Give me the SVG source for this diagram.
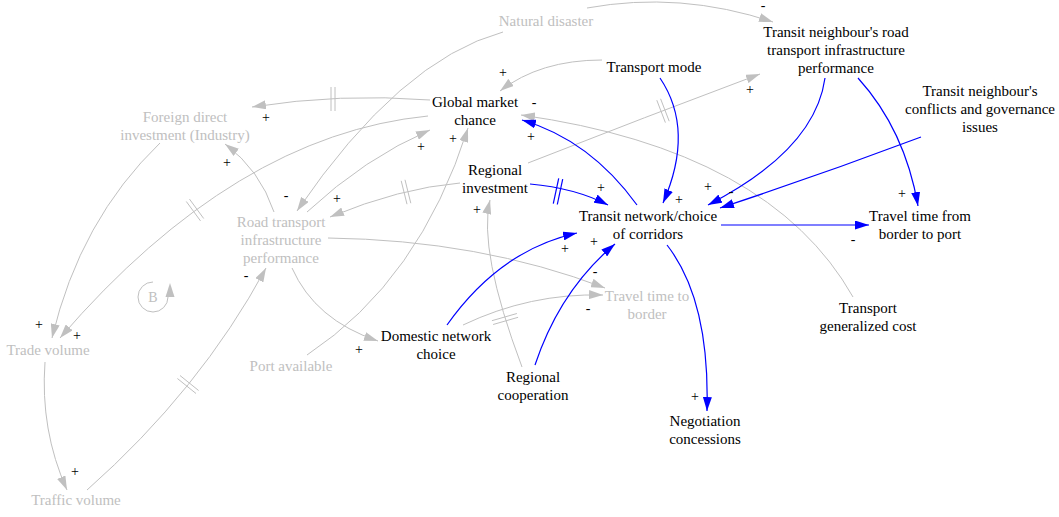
<svg xmlns="http://www.w3.org/2000/svg" width="1059" height="517" viewBox="0 0 1059 517" font-family="'Liberation Serif', Tinos, 'Times New Roman', Times, serif">
  <style>
    .g { fill: none; stroke: #c0c0c0; stroke-width: 1; }
    .b { fill: none; stroke: #0000ff; stroke-width: 1.2; }
    .ga { marker-end: url(#ahg); }
    .ba { marker-end: url(#ahb); }
    .dg { stroke: #c0c0c0; stroke-width: 1; }
    .db { stroke: #0000ff; stroke-width: 1.2; }
    text { text-anchor: middle; }
    .n { font-size: 15px; fill: #000000; }
    .ng { font-size: 15px; fill: #c0c0c0; }
    .s { font-size: 14px; fill: #000000; }
  </style>
  <defs>
    <marker id="ahg" viewBox="0 0 14 9" refX="14" refY="4.5" markerWidth="14" markerHeight="9" markerUnits="userSpaceOnUse" orient="auto">
      <path d="M0,0 L14,4.5 L0,9 Z" fill="#c0c0c0"/>
    </marker>
    <marker id="ahb" viewBox="0 0 14 9" refX="14" refY="4.5" markerWidth="14" markerHeight="9" markerUnits="userSpaceOnUse" orient="auto">
      <path d="M0,0 L14,4.5 L0,9 Z" fill="#0000ff"/>
    </marker>
  </defs>

  <rect width="1059" height="517" fill="#ffffff"/>

  <!-- causal links -->
  <g id="links">
    <path class="g ga" d="M587,8 Q680,-9 773,22"/>
    <path class="g ga" d="M503,32 Q400,60 297,211"/>
    <path class="g ga" d="M602,60 Q540,60 500,91"/>
    <path class="g ga" d="M430,100 Q340,93 252,107"/>
    <path class="g ga" d="M428,116 Q235,135 60,338"/>
    <path class="g ga" d="M160,143 Q80,220 52,338"/>
    <path class="g ga" d="M274,212 Q260,170 225,144"/>
    <path class="g ga" d="M307,212 Q365,158 430,130"/>
    <path class="g ga" d="M460,183 Q400,188 330,217"/>
    <path class="g ga" d="M328,238 Q480,240 605,288"/>
    <path class="g ga" d="M463,325 Q530,293 603,295"/>
    <path class="g ga" d="M292,268 Q315,320 378,341"/>
    <path class="g ga" d="M307,355 Q420,280 468,128"/>
    <path class="g ga" d="M522,367 Q478,250 490,200"/>
    <path class="g ga" d="M853,297 Q770,150 521,115"/>
    <path class="g ga" d="M45,362 Q40,430 67,490"/>
    <path class="g ga" d="M87,490 Q200,390 266,268"/>
    <path class="g ga" d="M528,163 Q645,117 760,74"/>

    <path class="b ba" d="M660,78 Q695,130 663,203"/>
    <path class="b ba" d="M530,184 Q575,188 608,205"/>
    <path class="b ba" d="M637,205 Q590,140 522,120"/>
    <path class="b ba" d="M447,325 Q500,250 577,233"/>
    <path class="b ba" d="M535,365 Q560,290 615,244"/>
    <path class="b ba" d="M721,225 L869,225"/>
    <path class="b ba" d="M825,78 Q815,150 708,205"/>
    <path class="b ba" d="M858,78 Q905,130 918,206"/>
    <path class="b ba" d="M921,137 Q820,175 720,208"/>
    <path class="b ba" d="M667,245 Q710,300 707,411"/>

    <!-- delay marks -->
    <g id="delays">
      <line class="dg" x1="331" y1="87" x2="331" y2="111"/>
      <line class="dg" x1="335" y1="87" x2="335" y2="111"/>
      <line class="dg" x1="186.3" y1="201.5" x2="200.5" y2="220.9"/>
      <line class="dg" x1="189.5" y1="199.1" x2="203.7" y2="218.5"/>
      <line class="dg" x1="401.2" y1="180.8" x2="407" y2="204.2"/>
      <line class="dg" x1="405" y1="179.8" x2="410.8" y2="203.2"/>
      <line class="dg" x1="491.9" y1="320.7" x2="516.9" y2="313.5"/>
      <line class="dg" x1="493.1" y1="324.5" x2="518.1" y2="317.3"/>
      <line class="dg" x1="656.8" y1="100.2" x2="665.4" y2="122.6"/>
      <line class="dg" x1="660.6" y1="98.8" x2="669.2" y2="121.2"/>
      <line class="dg" x1="180" y1="375.5" x2="198.6" y2="390.5"/>
      <line class="dg" x1="177.4" y1="378.5" x2="196" y2="393.5"/>
      <line class="db" x1="553.3" y1="203.7" x2="558.7" y2="178.3"/>
      <line class="db" x1="557.3" y1="204.5" x2="562.7" y2="179.1"/>
    </g>
  </g>

  <!-- link polarities -->
  <g id="polarities">
    <text class="s" x="763" y="10">-</text>
    <text class="s" x="286" y="200">-</text>
    <text class="s" x="503" y="77">+</text>
    <text class="s" x="679" y="204">+</text>
    <text class="s" x="266" y="122">+</text>
    <text class="s" x="77" y="340">+</text>
    <text class="s" x="39" y="329">+</text>
    <text class="s" x="227" y="167">+</text>
    <text class="s" x="421" y="151">+</text>
    <text class="s" x="337" y="203">+</text>
    <text class="s" x="595" y="276">-</text>
    <text class="s" x="588" y="313">-</text>
    <text class="s" x="359" y="354">+</text>
    <text class="s" x="453" y="143">+</text>
    <text class="s" x="477" y="214">+</text>
    <text class="s" x="601" y="192">+</text>
    <text class="s" x="531" y="141">+</text>
    <text class="s" x="534" y="107">-</text>
    <text class="s" x="565" y="253">+</text>
    <text class="s" x="594" y="246">+</text>
    <text class="s" x="853" y="244">-</text>
    <text class="s" x="708" y="191">+</text>
    <text class="s" x="902" y="198">+</text>
    <text class="s" x="731" y="196">-</text>
    <text class="s" x="695" y="401">+</text>
    <text class="s" x="75" y="476">+</text>
    <text class="s" x="246" y="280">-</text>
    <text class="s" x="750" y="94">+</text>
  </g>

  <!-- balancing loop marker -->
  <g id="loop-b">
    <path class="g" d="M153,282 A15,15 0 1 0 168,297"/>
    <polygon points="170,283 165.5,297 174.5,297" fill="#c0c0c0"/>
    <text class="ng" x="153" y="302" style="font-size:14px">B</text>
  </g>

  <!-- variables -->
  <g id="natural-disaster"><text class="ng" x="546" y="26">Natural disaster</text></g>
  <g id="transit-neighbour-road">
    <text class="n" x="836" y="37">Transit neighbour's road</text>
    <text class="n" x="836" y="55">transport infrastructure</text>
    <text class="n" x="836" y="73">performance</text>
  </g>
  <g id="transport-mode"><text class="n" x="654" y="72">Transport mode</text></g>
  <g id="global-market-chance">
    <text class="n" x="475" y="107">Global market</text>
    <text class="n" x="475" y="125">chance</text>
  </g>
  <g id="foreign-direct-investment">
    <text class="ng" x="185" y="122">Foreign direct</text>
    <text class="ng" x="185" y="140">investment (Industry)</text>
  </g>
  <g id="transit-neighbour-conflicts">
    <text class="n" x="980" y="96">Transit neighbour's</text>
    <text class="n" x="980" y="114">conflicts and governance</text>
    <text class="n" x="980" y="132">issues</text>
  </g>
  <g id="regional-investment">
    <text class="n" x="495" y="175">Regional</text>
    <text class="n" x="495" y="193">investment</text>
  </g>
  <g id="road-transport-infrastructure">
    <text class="ng" x="281" y="227">Road transport</text>
    <text class="ng" x="281" y="245">infrastructure</text>
    <text class="ng" x="281" y="263">performance</text>
  </g>
  <g id="transit-network-choice">
    <text class="n" x="648" y="221">Transit network/choice</text>
    <text class="n" x="648" y="239">of corridors</text>
  </g>
  <g id="travel-time-border-to-port">
    <text class="n" x="920" y="221">Travel time from</text>
    <text class="n" x="920" y="239">border to port</text>
  </g>
  <g id="travel-time-to-border">
    <text class="ng" x="647" y="301">Travel time to</text>
    <text class="ng" x="647" y="319">border</text>
  </g>
  <g id="transport-generalized-cost">
    <text class="n" x="868" y="313">Transport</text>
    <text class="n" x="868" y="331">generalized cost</text>
  </g>
  <g id="domestic-network-choice">
    <text class="n" x="436" y="341">Domestic network</text>
    <text class="n" x="436" y="359">choice</text>
  </g>
  <g id="trade-volume"><text class="ng" x="48" y="355">Trade volume</text></g>
  <g id="port-available"><text class="ng" x="291" y="371">Port available</text></g>
  <g id="regional-cooperation">
    <text class="n" x="533" y="382">Regional</text>
    <text class="n" x="533" y="400">cooperation</text>
  </g>
  <g id="negotiation-concessions">
    <text class="n" x="705" y="426">Negotiation</text>
    <text class="n" x="705" y="444">concessions</text>
  </g>
  <g id="traffic-volume"><text class="ng" x="76" y="505">Traffic volume</text></g>
</svg>
